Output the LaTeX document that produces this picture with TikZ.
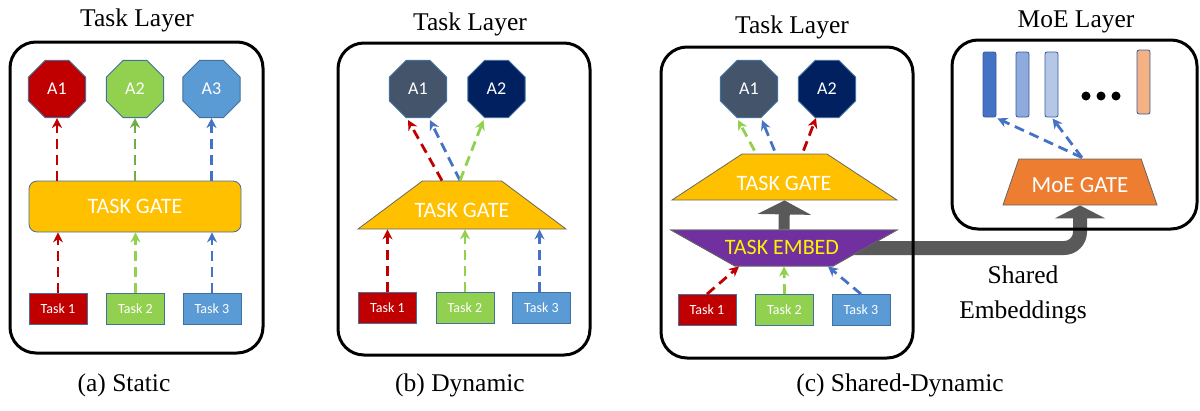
\documentclass[tikz,border=0pt]{standalone}
\usepackage{fontspec}
\setmainfont{Liberation Serif}
\newfontfamily\calib{Carlito}
\usetikzlibrary{shapes.geometric, arrows.meta, positioning, calc}
\definecolor{tred}{HTML}{C00000}
\definecolor{tgreen}{HTML}{92D050}
\definecolor{dgreen}{HTML}{70AD47}
\definecolor{tblue}{HTML}{5B9BD5}
\definecolor{ablue}{HTML}{4472C4}
\definecolor{gatey}{HTML}{FFC000}
\definecolor{slate}{HTML}{44546A}
\definecolor{navy}{HTML}{002060}
\definecolor{embedp}{HTML}{7030A0}
\definecolor{moeor}{HTML}{ED7D31}
\definecolor{edgeb}{HTML}{41719C}
\definecolor{bandg}{HTML}{595959}
\definecolor{expa}{HTML}{4472C4}
\definecolor{expb}{HTML}{8FAADC}
\definecolor{expc}{HTML}{B4C7E7}
\definecolor{expd}{HTML}{F4B183}

\begin{document}
\begin{tikzpicture}[x=1pt, y=-1pt,
      layer/.style={draw=black, line width=3pt, rounded corners=26pt, inner sep=0pt},
      title/.style={font=\fontsize{25.5}{35}\selectfont, align=center},
      octo/.style={regular polygon, regular polygon sides=8, minimum size=62pt,
                   inner sep=0pt, draw=edgeb, line width=0.8pt, text=white,
                   font=\calib\fontsize{18}{20}\selectfont},
      taskbox/.style={rectangle, minimum width=58pt, minimum height=31pt,
                      inner sep=0pt, draw=edgeb, line width=0.8pt, text=white,
                      font=\calib\fontsize{14}{16}\selectfont},
      trap/.style={trapezium, trapezium stretches body, inner sep=0pt,
                   draw=gray!80!black, line width=0.8pt},
      gatetxt/.style={text=white, font=\calib\fontsize{22}{24}\selectfont},
      bar/.style={rectangle, rounded corners=2pt, minimum width=13pt,
                  minimum height=65pt, inner sep=0pt, line width=0.8pt},
      arr/.style={-{Stealth[length=10pt, width=10pt]}, line width=2.8pt,
                  dash pattern=on 10pt off 6pt},
      fatarr/.style={-{Triangle[length=14pt, width=53pt]}, line width=11pt, bandg},
      band/.style={-{Triangle[length=13pt, width=50pt]}, line width=14pt, bandg,
                   rounded corners=16pt}
    ]
      \useasboundingbox (0,0) rectangle (1200,410);

      % (c) shapes needed first for the shared band
      \node[trap, fill=embedp, minimum width=226pt, text height=18pt, text depth=18pt,
            trapezium left angle=150.6, trapezium right angle=150.6]
            (cembed) at (784,248) {};
      \node[trap, fill=moeor, minimum width=154pt, text height=23pt, text depth=23pt,
            trapezium left angle=71, trapezium right angle=71]
            (mgate) at (1080,182) {};
      \draw[band] (cembed.center) -| (mgate.south);
      \node[trap, fill=embedp, minimum width=226pt, text height=18pt, text depth=18pt,
            trapezium left angle=150.6, trapezium right angle=150.6]
            at (784,248) {};
      \node[gatetxt, text=yellow] (cembedtxt) at (782,247) {TASK EMBED};
      \node[gatetxt, font=\calib\fontsize{23}{25}\selectfont] (mgatetxt) at (1080,185) {MoE GATE};

      % (a) Static
      \node[title] (ttla) at (137,20) {Task Layer};
      \node[layer, minimum width=253pt, minimum height=311pt] (boxa) at (136.5,197.5) {};
      \node[octo, fill=tred] (sa1) at (57,89) {A1};
      \node[octo, fill=tgreen] (sa2) at (135,89) {A2};
      \node[octo, fill=tblue] (sa3) at (211.5,89) {A3};
      \node[rectangle, rounded corners=8pt, fill=gatey, draw=edgeb, line width=0.8pt,
            minimum width=212pt, minimum height=51pt, gatetxt] (sgate) at (135,206.5) {TASK GATE};
      \node[taskbox, fill=tred] (st1) at (58,309) {Task 1};
      \node[taskbox, fill=tgreen] (st2) at (135.5,309) {Task 2};
      \node[taskbox, fill=tblue] (st3) at (212,309) {Task 3};
      \draw[arr, tred] (st1.north) -- (st1.north |- sgate.south);
      \draw[arr, tgreen] (st2.north) -- (st2.north |- sgate.south);
      \draw[arr, ablue] (st3.north) -- (st3.north |- sgate.south);
      \draw[arr, tred] (sa1.south |- sgate.north) -- (sa1.south);
      \draw[arr, dgreen] (sa2.south |- sgate.north) -- (sa2.south);
      \draw[arr, ablue] (sa3.south |- sgate.north) -- (sa3.south);
      \node[title] (capa) at (124,385) {(a) Static};

      % (b) Dynamic
      \node[title] (ttlb) at (470,24) {Task Layer};
      \node[layer, minimum width=252pt, minimum height=312pt] (boxb) at (464,199) {};
      \node[octo, fill=slate] (da1) at (418,89) {A1};
      \node[octo, fill=navy] (da2) at (496.5,89) {A2};
      \node[trap, fill=gatey, minimum width=208pt, text height=24pt, text depth=24pt,
            trapezium left angle=36.7, trapezium right angle=36.7] (dgate) at (462,205) {};
      \node[gatetxt] (dgatetxt) at (462,210) {TASK GATE};
      \node[taskbox, fill=tred] (dt1) at (387.5,307.5) {Task 1};
      \node[taskbox, fill=tgreen] (dt2) at (465,307.5) {Task 2};
      \node[taskbox, fill=tblue] (dt3) at (541.5,307.5) {Task 3};
      \draw[arr, tred] (dt1.north) -- (dt1.north |- dgate.south);
      \draw[arr, tgreen] (dt2.north) -- (dt2.north |- dgate.south);
      \draw[arr, ablue] ($(dt3.north)+(-2,0)$) -- ($(dt3.north |- dgate.south)+(-2,0)$);
      \draw[arr, tred] ($(dgate.north)+(-20,0)$) -- ($(da1.south)+(-10,2)$);
      \draw[arr, ablue] ($(dgate.north)+(-2,0)$) -- ($(da1.south)+(12,2)$);
      \draw[arr, tgreen] ($(dgate.north)+(-2,0)$) -- ($(da2.south)+(-13,2)$);
      \node[title] (capb) at (460,385) {(b) Dynamic};

      % (c) Shared-Dynamic
      \node[title] (ttlc) at (792,27) {Task Layer};
      \node[layer, minimum width=252pt, minimum height=311pt] (boxc) at (787,202.5) {};
      \node[octo, fill=slate] (ca1) at (749,89) {A1};
      \node[octo, fill=navy] (ca2) at (827,89) {A2};
      \node[trap, fill=gatey, minimum width=225pt, text height=23pt, text depth=23pt,
            trapezium left angle=33.3, trapezium right angle=33.3] (cgate) at (784.5,177) {};
      \node[gatetxt] (cgatetxt) at (784,183) {TASK GATE};
      \draw[fatarr] (cembed.north) -- (cgate.south);
      \node[taskbox, fill=tred] (ct1) at (707,310) {Task 1};
      \node[taskbox, fill=tgreen] (ct2) at (784.5,310) {Task 2};
      \node[taskbox, fill=tblue] (ct3) at (861,310) {Task 3};
      \draw[arr, tred] (ct1.north) -- ($(cembed.south)+(-45,0)$);
      \draw[arr, tgreen] (ct2.north) -- (cembed.south);
      \draw[arr, ablue] (ct3.north) -- ($(cembed.south)+(44,0)$);
      \draw[arr, tgreen] ($(cgate.north)+(-30,-3)$) -- ($(ca1.south)+(-11,2)$);
      \draw[arr, ablue] ($(cgate.north)+(-10,-3)$) -- ($(ca1.south)+(13,2)$);
      \draw[arr, tred] ($(cgate.north)+(19,-3)$) -- ($(ca2.south)+(-11,0)$);
      \node[title] (capc) at (900,385) {(c) Shared-Dynamic};

      % MoE layer
      \node[title] (ttlm) at (1076,22) {MoE Layer};
      \node[layer, minimum width=245pt, minimum height=189pt] (boxm) at (1074.5,134.5) {};
      \node[bar, fill=expa, draw=expa!80!black] (e1) at (989.5,84.5) {};
      \node[bar, fill=expb, draw=expa!80!black] (e2) at (1022.5,84.5) {};
      \node[bar, fill=expc, draw=expa!80!black] (e3) at (1051.5,84.5) {};
      \node[bar, fill=expd, draw=expa!80!black, minimum height=64pt] (e4) at (1143.5,82) {};
      \coordinate (dots) at (1101,96);
      \foreach \dx in {-15,0,15}
        \fill ($(dots)+(\dx,0)$) circle (4.5pt);
      \draw[arr, ablue] ($(mgate.north)+(2,-1)$) -- ($(e1.south east)+(1,1)$);
      \draw[arr, ablue] ($(mgate.north)+(2,-1)$) -- ($(e3.south)+(1,1)$);
      \node[title] (shemb) at (1023,295) {Shared\\Embeddings};
    \end{tikzpicture}
\end{document}
